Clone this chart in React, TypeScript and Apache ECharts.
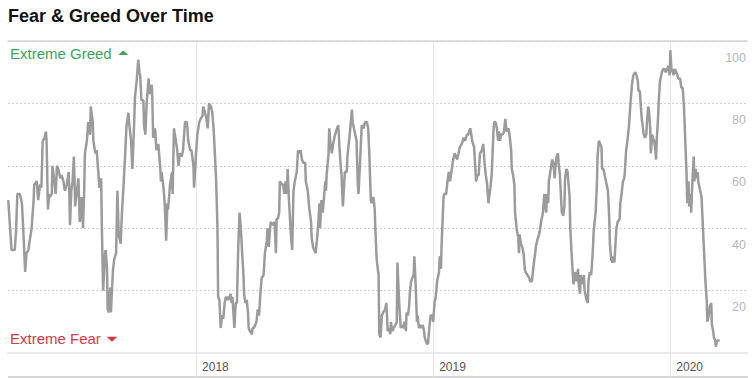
import { useEffect, useRef } from "react";
import * as echarts from "echarts";

const DAY_MS = 86400000;
const BASE_DATE = "2018-01-01";

// Days since 2018-01-01 for each reading
const dayOffsets = [
  -289, -284, -279, -277, -275, -271, -268, -266, -263, -261,
  -258, -256, -253, -250, -249, -245, -243, -240, -238, -236,
  -233, -231, -230, -228, -226, -225, -222, -221, -218, -216,
  -214, -212, -209, -207, -204, -202, -199, -196, -195, -194,
  -192, -190, -188, -186, -184, -181, -179, -176, -174, -172,
  -171, -168, -166, -163, -162, -159, -158, -155, -153, -150,
  -149, -146, -145, -143, -140, -139, -137, -136, -134, -132,
  -131, -128, -126, -123, -121, -119, -116, -114, -112, -109,
  -107, -104, -103, -100, -98, -95, -94, -91, -89, -87,
  -86, -84, -81, -80, -78, -76, -73, -71, -68, -67,
  -66, -63, -61, -58, -55, -54, -53, -50, -48, -46,
  -44, -43, -40, -37, -36, -34, -31, -29, -27, -25,
  -22, -20, -17, -14, -12, -9,
  -7, -4, -3, 0, 2, 5, 7, 10, 11, 14,
  16, 18, 20, 23, 25, 27, 29, 31, 33, 34,
  36, 38, 40, 42, 44, 46, 48, 50, 51, 53,
  55, 56, 59, 61, 63, 64, 65, 67, 69, 71,
  73, 74, 76, 78, 80, 81, 83, 86, 87, 89,
  91, 93, 95, 97, 99, 101, 104, 106, 109, 110,
  112, 114, 115, 118, 121, 123, 124, 126, 128, 129,
  132, 134, 136, 138, 140, 141, 143, 146, 148, 150,
  152, 155, 157, 159, 161, 163, 165, 168, 169, 172,
  174, 177, 178, 180, 182, 184, 186, 188, 190, 191,
  193, 195, 197, 199, 200, 201, 204, 205, 207, 209,
  211, 214, 217, 219, 221, 223, 224, 226, 228, 229,
  232, 233, 237, 240, 241, 245, 247, 249, 250, 252,
  255, 258, 260, 263, 265, 267, 269, 270, 273, 275,
  276, 278, 281, 282, 284, 286, 288, 291, 293, 295,
  297, 299, 300, 302, 304, 305, 307, 309, 310, 312,
  313, 315, 317, 319, 321, 323, 324, 326, 328, 329,
  331, 333, 335, 336, 338, 340, 341, 343, 345, 347,
  349, 351, 352, 355, 357, 359, 361, 364, 365, 367,
  369, 371, 374, 375, 377, 378, 381, 382, 385, 387,
  389, 391, 393, 395, 396, 398, 400, 402, 404, 406,
  409, 412, 414, 417, 419, 422, 423, 425, 428, 431,
  433, 435, 437, 440, 442, 444, 446, 448, 450, 453,
  455, 458, 459, 461, 463, 465, 466, 468, 469, 472,
  474, 476, 478, 481, 483, 485, 486, 488, 490, 491,
  493, 494, 496, 497, 498, 500, 502, 504, 506, 507,
  510, 513, 514, 517, 518, 520, 522, 523, 525, 528, 529,
  531, 534, 536, 537, 539, 540, 542, 543, 546, 548,
  550, 552, 553, 555, 557, 558, 560, 562, 563, 565,
  567, 568, 570, 572, 573, 575, 576, 578, 580, 581,
  583, 584, 586, 588, 589, 591, 592, 594, 595, 597,
  598, 600, 601, 603, 604, 606, 608, 609, 611, 612,
  615, 617, 618, 620, 622, 624, 625, 627, 629, 631,
  633, 634, 636, 637, 639, 641, 642, 644, 645, 647,
  649, 650, 652, 653, 655, 657, 659, 660, 662, 664,
  666, 667, 669, 671, 673, 676, 678, 680, 681, 683,
  684, 686, 688, 689, 691, 693, 694, 696, 697, 699,
  700, 702, 703, 705, 707, 708, 709, 711, 712, 714,
  717, 719, 721, 723, 725, 727, 729, 730, 732, 733,
  735, 737, 739, 741, 742, 745, 747, 749, 751, 753,
  755, 756, 758, 759, 761, 762, 764, 766, 767, 769,
  770, 772, 773, 775, 776, 778, 780, 782, 784, 786,
  787, 789, 791, 793, 794, 796, 797, 799, 800, 802, 804, 806,
];

const fearGreed = [
  49, 33, 33, 39, 51, 51, 48, 40, 26, 32,
  33, 36, 40, 49, 54, 55, 49, 54, 53, 68,
  69, 71, 68, 46, 51, 50, 51, 60, 55, 51,
  60, 59, 56, 57, 55, 52, 54, 58, 51, 41,
  52, 55, 63, 47, 51, 56, 42, 50, 40, 53,
  64, 68, 74, 70, 79, 74, 68, 64, 65, 57,
  53, 56, 41, 20, 32, 33, 27, 14, 13, 21,
  13, 26, 30, 32, 52, 38, 35, 45, 52, 64,
  73, 77, 74, 68, 59, 75, 82, 88, 94, 90,
  89, 81, 81, 73, 70, 80, 88, 83, 86, 79,
  69, 72, 65, 67, 59, 55, 58, 53, 47, 36,
  48, 46, 54, 58, 51, 72, 68, 65, 60, 64,
  63, 65, 74, 74, 68, 65,
  65, 60, 53, 64, 70, 74, 75, 76, 79, 77,
  75, 72, 80, 79, 77, 72, 64, 55, 40, 18,
  17, 8, 12, 11, 16, 18, 17, 18, 17, 19,
  16, 18, 8, 16, 16, 26, 34, 45, 40, 32,
  25, 19, 16, 17, 13, 8, 7, 6, 8, 8,
  9, 10, 14, 12, 19, 24, 25, 32, 36, 40,
  34, 40, 42, 41, 42, 32, 43, 43, 45, 55,
  54, 54, 51, 55, 51, 59, 49, 38, 33, 52,
  55, 58, 65, 64, 65, 62, 61, 61, 55, 52,
  47, 42, 37, 34, 33, 32, 36, 41, 48, 40,
  49, 45, 50, 55, 52, 57, 64, 72, 67, 64,
  67, 70, 72, 73, 65, 59, 57, 47, 54, 58,
  58, 63, 71, 78, 74, 70, 68, 54, 51, 59,
  73, 72, 74, 74, 72, 62, 49, 48, 50, 46,
  40, 30, 25, 6, 5, 12, 13, 14, 16, 7,
  8, 6, 10, 7, 8, 8, 9, 10, 29, 19,
  15, 8, 9, 8, 10, 7, 13, 12, 15, 19,
  23, 24, 25, 31, 22, 10, 12, 8, 9, 8,
  9, 7, 5, 3, 3, 8, 12, 12, 10, 16,
  18, 23, 26, 31, 27, 35, 50, 51, 51, 55,
  58, 55, 58, 61, 62, 64, 63, 62, 64, 66,
  67, 69, 68, 70, 70, 72, 71, 68, 66, 55,
  57, 57, 64, 65, 67, 61, 57, 54, 48, 53,
  57, 72, 74, 74, 72, 68, 71, 68, 70, 70,
  71, 75, 71, 72, 69, 65, 59, 57, 54, 45,
  41, 39, 37, 32, 38, 35, 34, 32, 27, 26,
  25, 24, 23, 23, 25, 29, 32, 34, 36, 38, 39,
  42, 45, 51, 49, 45, 51, 48, 55, 59, 62,
  61, 56, 59, 63, 64, 61, 57, 49, 45, 44,
  47, 56, 59, 58, 55, 50, 40, 32, 25, 22,
  25, 26, 23, 27, 22, 19, 25, 23, 22, 25,
  20, 18, 17, 16, 23, 26, 25, 27, 34, 39,
  45, 54, 63, 68, 67, 66, 59, 59, 57, 55,
  53, 52, 43, 35, 30, 29, 31, 29, 33, 40,
  42, 42, 43, 48, 51, 55, 56, 58, 65, 68,
  72, 75, 81, 86, 89, 90, 89, 87, 84, 84,
  81, 75, 72, 70, 69, 70, 74, 79, 78, 72,
  64, 70, 69, 68, 65, 62, 68, 75, 80, 87,
  90, 91, 91, 90, 91, 92, 89, 97, 90, 91,
  89, 91, 90, 89, 88, 88, 85, 85, 79, 68,
  57, 48, 55, 47, 51, 45, 55, 63, 55, 59,
  56, 58, 55, 53, 53, 50, 41, 32, 23, 17,
  10, 12, 15, 16, 9, 7, 5, 4, 2, 4, 4, 4,
];

// Year boundaries, as days since 2018-01-01
const yearTickDays = [0, 365, 730];
const axisRangeDays = [-289.4, 848];
const yRange = [0, 100];
const yStep = 20;

const FONT = "'Liberation Sans', Arial, Helvetica, sans-serif";
const GREEN = "#3ba55a";
const RED = "#d43a45";

export default function App() {
  const ref = useRef<HTMLDivElement>(null);

  useEffect(() => {
    document.body.style.margin = "0";
    if (!ref.current) return;
    const chart = echarts.init(ref.current, null, { renderer: "svg" });
    const base = Date.parse(BASE_DATE + "T00:00:00Z");
    const data = dayOffsets.map((d, i) => [d, fearGreed[i]]);
    const yearLabel = (v: number) => String(new Date(base + v * DAY_MS).getUTCFullYear());

    chart.setOption({
      animation: false,
      title: {
        text: "Fear & Greed Over Time",
        left: 8,
        top: 7,
        padding: 0,
        textStyle: { fontSize: 18, fontWeight: "bold", fontFamily: FONT, color: "#111" },
      },
      grid: { left: 8, right: 9, top: 41, bottom: 25, containLabel: false },
      xAxis: [
        {
          type: "value",
          min: axisRangeDays[0],
          max: axisRangeDays[1],
          position: "bottom",
          axisLine: { onZero: false, lineStyle: { color: "#e8e8e8", width: 2 } },
          axisTick: {
            show: true,
            length: 24,
            customValues: yearTickDays,
            lineStyle: { color: "#e6e6e6", width: 1 },
          },
          axisLabel: {
            customValues: yearTickDays,
            formatter: yearLabel,
            align: "left",
            padding: [0, 0, 0, 6],
            margin: 8,
            color: "#555",
            fontSize: 12,
            fontFamily: FONT,
          },
          splitLine: { show: true, lineStyle: { color: "#e6e6e6", width: 1 } },
        },
        {
          type: "value",
          min: axisRangeDays[0],
          max: axisRangeDays[1],
          position: "top",
          axisLine: { onZero: false, lineStyle: { color: "#d4d4d4", width: 1.5 } },
          axisTick: { show: false },
          axisLabel: { show: false },
          splitLine: { show: false },
        },
      ],
      yAxis: {
        type: "value",
        min: yRange[0],
        max: yRange[1],
        interval: yStep,
        position: "right",
        axisLine: { show: false },
        axisTick: { show: false },
        axisLabel: {
          inside: true,
          align: "right",
          verticalAlign: "top",
          padding: [10, 0, 0, 0],
          margin: 1,
          color: "#b8b8b8",
          fontSize: 12.5,
          fontFamily: FONT,
          formatter: (v: number) => (v === 0 ? "" : String(v)),
        },
        splitLine: { lineStyle: { color: "#cfcfcf", type: [2, 2], width: 1 } },
      },
      series: [
        {
          type: "line",
          data,
          xAxisIndex: 0,
          showSymbol: false,
          symbol: "none",
          silent: true,
          z: 3,
          lineStyle: { color: "#9b9b9b", width: 2.5 },
          itemStyle: { color: "#9b9b9b" },
        },
      ],
      graphic: [
        {
          type: "text",
          x: 10,
          y: 53,
          style: {
            text: "Extreme Greed",
            fill: GREEN,
            fontSize: 15,
            fontFamily: FONT,
            verticalAlign: "middle",
            textVerticalAlign: "middle",
          },
        },
        {
          type: "polygon",
          shape: { points: [[118.3, 55], [128.3, 55], [123.3, 50.5]] },
          style: { fill: GREEN },
        },
        {
          type: "text",
          x: 10,
          y: 338.7,
          style: {
            text: "Extreme Fear",
            fill: RED,
            fontSize: 15,
            fontFamily: FONT,
            verticalAlign: "middle",
            textVerticalAlign: "middle",
          },
        },
        {
          type: "polygon",
          shape: { points: [[106.7, 336.7], [117.3, 336.7], [112, 341.7]] },
          style: { fill: RED },
        },
        {
          type: "line",
          shape: { x1: 8, y1: 377, x2: 748, y2: 377 },
          style: { stroke: "#c8c8c8", lineWidth: 1.5 },
        },
      ],
    });

    return () => chart.dispose();
  }, []);

  return <div ref={ref} style={{ width: 756, height: 378 }} />;
}
